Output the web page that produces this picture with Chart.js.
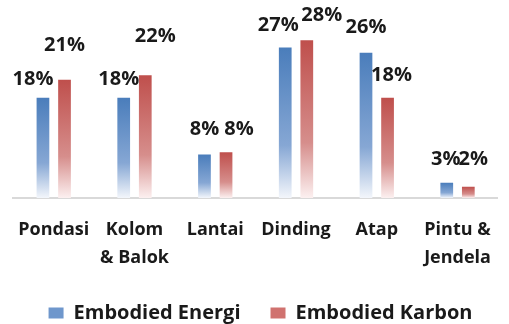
<!DOCTYPE html>
<html>
<head>
<meta charset="utf-8">
<script src="https://cdn.jsdelivr.net/npm/chart.js@4"></script>
<style>
  html, body { margin: 0; padding: 0; background: #fff; }
  #wrap { width: 509px; height: 324px; }
</style>
</head>
<body>
<div id="wrap"><canvas id="chart"></canvas></div>
<script>
// data
const categories = [['Pondasi'], ['Kolom', '& Balok'], ['Lantai'], ['Dinding'], ['Atap'], ['Pintu &', 'Jendela']];
const energiValues = [17.8, 17.8, 7.7, 26.7, 25.8, 2.7];
const karbonValues = [21.0, 21.8, 8.1, 28.0, 17.8, 2.0];
const seriesNames = ['Embodied Energi', 'Embodied Karbon'];

// label nudges (px) like the hand-placed labels in the source
const labelShiftX = [[-10, -5, 0, -7, 0, -1], [0, 10, 13, 15, 4, 5]];
const labelShiftY = [[5, 5, -2, 1, -2, 0], [-11, -16, 0, -2, 1, -4]];

const FONT = '"Open Sans", "Noto Sans", sans-serif';

// 每根柱子自己的漸層 (上深下淡)
function gradientFill(top, mid, bottom) {
    return function(context) {
        const chart = context.chart;
        const { ctx, chartArea, scales } = chart;
        if (!chartArea || context.type !== 'data') return top;
        const y0 = scales.y.getPixelForValue(0);
        const y1 = scales.y.getPixelForValue(context.raw);
        if (!(y0 > y1)) return top;
        const g = ctx.createLinearGradient(0, y1, 0, y0);
        g.addColorStop(0, top);
        g.addColorStop(0.65, mid);
        g.addColorStop(1, bottom);
        return g;
    };
}

const valueLabels = {
    id: 'valueLabels',
    afterDatasetsDraw(chart) {
        const ctx = chart.ctx;
        ctx.save();
        ctx.font = 'bold 20px ' + FONT;
        ctx.fillStyle = '#1a1a1a';
        ctx.textAlign = 'center';
        ctx.textBaseline = 'middle';
        chart.data.datasets.forEach((ds, i) => {
            chart.getDatasetMeta(i).data.forEach((bar, j) => {
                const txt = Math.round(ds.data[j]) + '%';
                ctx.fillText(txt, bar.x + labelShiftX[i][j], bar.y - 23 + labelShiftY[i][j]);
            });
        });
        ctx.restore();
    }
};

// 固定圖例高度，讓它貼近底部
const legendHeight = {
    id: 'legendHeight',
    beforeUpdate(chart) {
        const legend = chart.legend;
        if (legend && !legend._fixed) {
            const fit = legend.fit;
            legend.fit = function() {
                fit.call(this);
                this.height = 51;
            };
            legend._fixed = true;
        }
    }
};

new Chart(document.getElementById('chart'), {
    type: 'bar',
    data: {
        labels: categories,
        datasets: [{
            label: seriesNames[0],
            data: energiValues,
            backgroundColor: gradientFill('#4a7dbb', '#86a7d4', '#f3f6fb'),
            legendColor: '#6f97cc'
        }, {
            label: seriesNames[1],
            data: karbonValues,
            backgroundColor: gradientFill('#bf4f4c', '#d68e8c', '#fcf0f0'),
            legendColor: '#d0726f'
        }]
    },
    options: {
        responsive: true,
        maintainAspectRatio: false,
        animation: false,
        datasets: {
            bar: { categoryPercentage: 0.534, barPercentage: 0.59 }
        },
        layout: { padding: { top: 29, left: 13, right: 1, bottom: 0 } },
        scales: {
            x: {
                grid: { display: false, drawTicks: false },
                border: { color: '#d9d9d9', width: 2 },
                afterFit(scale) { scale.height = 75; },
                ticks: {
                    color: '#1a1a1a',
                    padding: 18,
                    maxRotation: 0,
                    autoSkip: false,
                    font: { family: FONT, size: 18, weight: 'bold', lineHeight: 1.556 }
                }
            },
            y: {
                display: false,
                min: 0,
                max: 30
            }
        },
        plugins: {
            tooltip: { enabled: false },
            legend: {
                position: 'bottom',
                labels: {
                    color: '#1a1a1a',
                    boxWidth: 15,
                    boxHeight: 11,
                    padding: 30,
                    font: { family: FONT, size: 20, weight: 'bold' },
                    generateLabels(chart) {
                        return chart.data.datasets.map((ds, i) => ({
                            text: ds.label,
                            fillStyle: ds.legendColor,
                            strokeStyle: ds.legendColor,
                            lineWidth: 0,
                            fontColor: '#1a1a1a',
                            datasetIndex: i
                        }));
                    }
                }
            }
        }
    },
    plugins: [valueLabels, legendHeight]
});
</script>
</body>
</html>
